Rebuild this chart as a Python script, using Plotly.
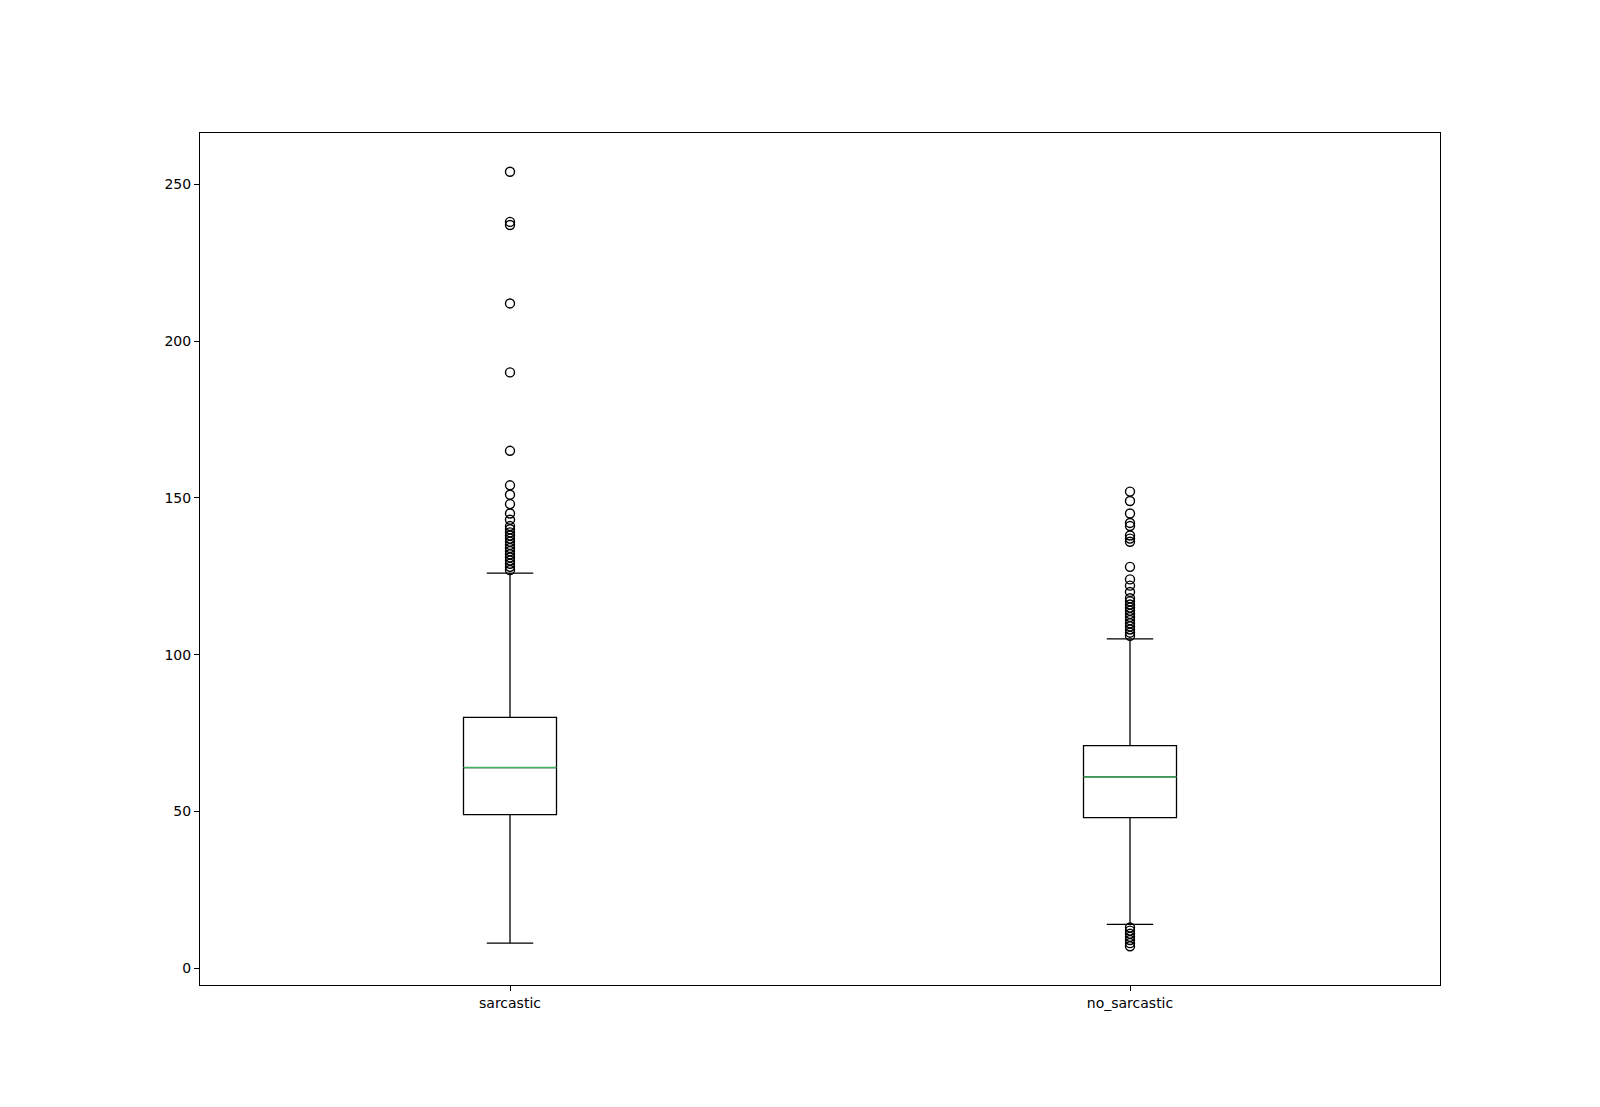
import plotly.graph_objects as go

categories = ["sarcastic", "no_sarcastic"]
positions = [1, 2]
q1 = [49, 48]
median = [64, 61]
q3 = [80, 71]
lower_whisker = [8, 14]
upper_whisker = [126, 105]
outliers = [
    [127, 128, 129, 130, 131, 132, 133, 134, 135, 136, 137, 138, 139, 140, 141,
     143, 145, 148, 151, 154, 165, 190, 212, 237, 238, 254],
    [7, 8, 9, 10, 11, 12, 13,
     106, 107, 108, 109, 110, 111, 112, 113, 114, 115, 116, 117, 118, 120, 122,
     124, 128, 136, 137, 138, 141, 142, 145, 149, 152],
]

BOX_W = 0.15
MEDIAN_COLOR = "#45b060"

fig = go.Figure()
for i, name in enumerate(categories):
    x = positions[i]
    fig.add_trace(go.Box(
        x=[x], q1=[q1[i]], median=[median[i]], q3=[q3[i]],
        lowerfence=[lower_whisker[i]], upperfence=[upper_whisker[i]],
        width=BOX_W, whiskerwidth=0.5, fillcolor="white",
        line=dict(color="black", width=1.3), boxpoints=False,
        showlegend=False, name=name, hoverinfo="skip",
    ))
    fig.add_trace(go.Scatter(
        x=[x - BOX_W / 2, x + BOX_W / 2], y=[median[i], median[i]],
        mode="lines", line=dict(color=MEDIAN_COLOR, width=1.4),
        showlegend=False, hoverinfo="skip",
    ))
    fig.add_trace(go.Scatter(
        x=[x] * len(outliers[i]), y=outliers[i], mode="markers",
        marker=dict(symbol="circle-open", size=9, color="black",
                    line=dict(width=1.4, color="black")),
        showlegend=False,
    ))

fig.update_layout(
    width=1600, height=1107,
    margin=dict(l=200, r=160, t=133, b=122),
    plot_bgcolor="white", paper_bgcolor="white",
    font=dict(family="DejaVu Sans", size=14, color="black"),
)
fig.update_xaxes(
    range=[0.5, 2.5], tickvals=positions, ticktext=categories,
    showline=True, linecolor="black", linewidth=1, mirror=True,
    ticks="outside", ticklen=5, tickcolor="black", showgrid=False, zeroline=False,
)
fig.update_yaxes(
    range=[-5.35, 266.35], tickvals=[0, 50, 100, 150, 200, 250],
    showline=True, linecolor="black", linewidth=1, mirror=True,
    ticks="outside", ticklen=5, tickcolor="black", showgrid=False, zeroline=False,
)

fig.write_html("out.html")
